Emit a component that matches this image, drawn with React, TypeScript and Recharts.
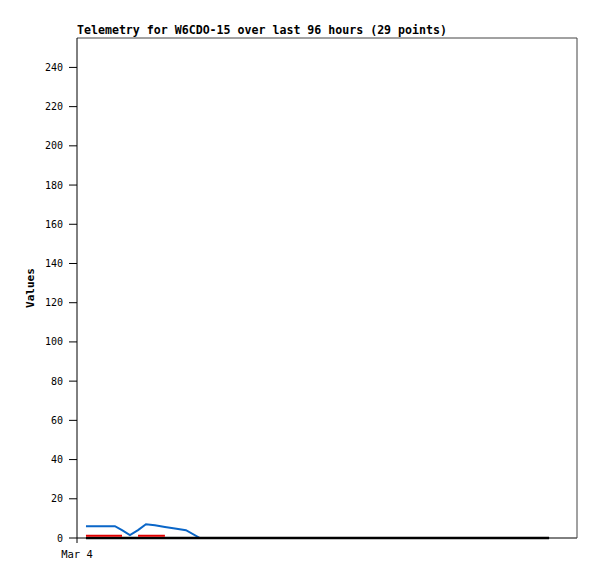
import { LineChart, Line, XAxis, YAxis } from "recharts";

// hours since Mar 4 00:00
const hours = [
  0.43, 1.1, 1.82, 2.16, 2.54, 2.93, 3.31, 3.74, 4.22, 4.7, 5.23, 5.9,
  6.9, 7.9, 8.9, 9.9, 10.9, 11.9, 12.8, 13.8, 14.8, 15.8, 16.8, 17.8,
  18.7, 19.7, 20.7, 21.7, 22.66,
];
const blueValues = [
  6, 6, 6, 4, 1.5, 4, 7, 6.5, 5.6, 4.8, 4, 0,
  0, 0, 0, 0, 0, 0, 0, 0, 0, 0, 0, 0, 0, 0, 0, 0, 0,
];
const redValues: (number | null)[] = [
  1.2, 1.2, 1.2, 1.2, null, 1.2, 1.2, 1.2, 1.2, null, null, null,
  null, null, null, null, null, null, null, null, null, null, null, null,
  null, null, null, null, null,
];
const blackValues = hours.map(() => 0);
const yTicks = [0, 20, 40, 60, 80, 100, 120, 140, 160, 180, 200, 220, 240];

const data = hours.map((h, i) => ({
  h,
  blue: blueValues[i],
  red: redValues[i],
  black: blackValues[i],
}));

const mono = "'DejaVu Sans Mono', 'Liberation Mono', monospace";

export default function App() {
  return (
    <div style={{ position: "absolute", left: 0, top: 0, width: 597, height: 579, background: "#fff" }}>
      <div
        style={{
          position: "absolute",
          left: 77,
          top: 23,
          fontFamily: mono,
          fontWeight: "bold",
          fontSize: 11.6,
          color: "#000",
          whiteSpace: "nowrap",
        }}
      >
        Telemetry for W6CDO-15 over last 96 hours (29 points)
      </div>
      <LineChart width={597} height={579} data={data} margin={{ top: 37, right: 19, bottom: 0, left: 0 }}>
        <XAxis
          dataKey="h"
          type="number"
          domain={[0, 24]}
          ticks={[0]}
          tickFormatter={() => "Mar 4"}
          height={41}
          tickSize={5}
          tickMargin={8}
          axisLine={{ stroke: "#000" }}
          tickLine={{ stroke: "#000" }}
          tick={{ fill: "#000", fontSize: 10.5, fontFamily: mono }}
        />
        <XAxis
          xAxisId="top"
          dataKey="h"
          type="number"
          domain={[0, 24]}
          orientation="top"
          height={1}
          tick={false}
          tickLine={false}
          axisLine={{ stroke: "#444" }}
        />
        <YAxis
          type="number"
          domain={[0, 255]}
          ticks={yTicks}
          width={77}
          tickSize={8}
          tickMargin={6}
          interval={0}
          axisLine={{ stroke: "#000" }}
          tickLine={{ stroke: "#000" }}
          tick={{ fill: "#000", fontSize: 10, fontFamily: mono }}
          label={{
            value: "Values",
            angle: -90,
            position: "insideLeft",
            offset: 30,
            style: { fill: "#000", fontSize: 11, fontWeight: "bold", fontFamily: mono, textAnchor: "middle" },
          }}
        />
        <YAxis
          yAxisId="right"
          orientation="right"
          domain={[0, 255]}
          width={1}
          tick={false}
          tickLine={false}
          axisLine={{ stroke: "#444" }}
        />
        <Line dataKey="blue" stroke="#0a66c8" strokeWidth={2} dot={false} isAnimationActive={false} />
        <Line dataKey="black" stroke="#000" strokeWidth={2.5} dot={false} isAnimationActive={false} />
        <Line dataKey="red" stroke="#e00000" strokeWidth={2} dot={false} isAnimationActive={false} />
      </LineChart>
    </div>
  );
}
